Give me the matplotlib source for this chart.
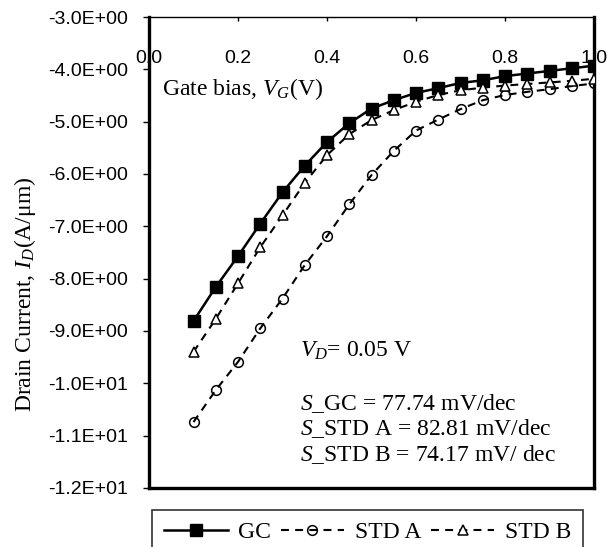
import matplotlib
matplotlib.use("Agg")
import matplotlib.pyplot as plt
from matplotlib.ticker import FuncFormatter

plt.rcParams['font.family'] = ['Liberation Serif', 'DejaVu Serif']
plt.rcParams['mathtext.fontset'] = 'custom'
plt.rcParams['mathtext.rm'] = 'Liberation Serif'
plt.rcParams['mathtext.it'] = 'Liberation Serif:italic'

# ---- data (log10 drain current vs gate bias) ----
gate_bias = [0.10, 0.15, 0.20, 0.25, 0.30, 0.35, 0.40, 0.45, 0.50, 0.55,
             0.60, 0.65, 0.70, 0.75, 0.80, 0.85, 0.90, 0.95, 1.00]
gc = [-8.81, -8.16, -7.57, -6.95, -6.35, -5.84, -5.39, -5.03, -4.75, -4.59,
      -4.45, -4.36, -4.26, -4.21, -4.13, -4.08, -4.03, -3.98, -3.93]
std_a = [-10.74, -10.13, -9.59, -8.95, -8.38, -7.74, -7.19, -6.58, -6.02, -5.56,
         -5.17, -4.96, -4.76, -4.59, -4.49, -4.43, -4.38, -4.32, -4.27]
std_b = [-9.40, -8.77, -8.09, -7.40, -6.79, -6.17, -5.64, -5.24, -4.97, -4.78,
         -4.62, -4.49, -4.40, -4.35, -4.31, -4.28, -4.25, -4.22, -4.18]
series_labels = ["GC", "STD A", "STD B"]
x_ticks = [0.0, 0.2, 0.4, 0.6, 0.8, 1.0]
y_ticks = [-12, -11, -10, -9, -8, -7, -6, -5, -4, -3]

FS = 17
TFS = 14

fig = plt.figure(figsize=(6.07, 5.47), dpi=100)
ax = fig.add_axes([149/607, 1-488/547, (594-149)/607, (488-17)/547])

ax.plot(gate_bias, gc, color='black', lw=1.8, marker='s', ms=8.7,
        mfc='black', mec='black', label=series_labels[0], zorder=3)
ax.plot(gate_bias, std_a, color='black', lw=1.5, ls=(0, (3.8, 3)), marker='o', ms=7,
        mfc='none', mec='black', mew=1.1, label=series_labels[1], zorder=3)
ax.plot(gate_bias, std_b, color='black', lw=1.5, ls=(0, (3.8, 3)), marker='^', ms=7.5,
        mfc='white', mec='black', mew=1.1, label=series_labels[2], zorder=3)

ax.set_xlim(0, 1)
ax.set_ylim(-12, -3)
ax.set_xticks(x_ticks)
ax.set_yticks(y_ticks)
ax.xaxis.set_major_formatter(FuncFormatter(lambda v, p: f"{v:.1f}"))
ax.yaxis.set_major_formatter(FuncFormatter(lambda v, p: f"{v:.1E}"))

ax.tick_params(axis='x', which='both', top=True, bottom=False, labeltop=True,
               labelbottom=False, direction='in', length=3, width=1,
               pad=-36, labelsize=TFS)
ax.tick_params(axis='y', direction='out', length=4.3, width=1, pad=10.8,
               labelsize=TFS)
for lbl in ax.get_xticklabels() + ax.get_yticklabels():
    lbl.set_family(['Liberation Sans', 'DejaVu Sans'])

for side in ['left', 'right', 'bottom']:
    ax.spines[side].set_linewidth(2.4)
ax.spines['top'].set_linewidth(1.0)

ax.text(0.03, -4.38, r"Gate bias, $V_G$(V)", fontsize=FS, va='center', ha='left')
ax.text(0.34, -9.37, r"$V_D$= 0.05 V", fontsize=FS, va='center', ha='left')
ax.text(0.34, -10.38, r"$S$_GC = 77.74 mV/dec", fontsize=FS, va='center', ha='left')
ax.text(0.34, -10.86, r"$S$_STD A = 82.81 mV/dec", fontsize=FS, va='center', ha='left')
ax.text(0.34, -11.37, r"$S$_STD B = 74.17 mV/ dec", fontsize=FS, va='center', ha='left')

fig.text(25/607, 1-294/547, r"Drain Current, $I_D$(A/μm)", fontsize=FS,
         rotation=90, va='center', ha='center')

leg = fig.legend(loc='upper left', bbox_to_anchor=(152/607, 1-510/547),
                 ncol=3, fontsize=FS, frameon=True, fancybox=False,
                 edgecolor='black', handlelength=2.7, handletextpad=0.45,
                 columnspacing=0.4, borderpad=0.5, borderaxespad=0)
leg.get_frame().set_linewidth(1.2)

fig.savefig("out.png", dpi=100, facecolor='white')
